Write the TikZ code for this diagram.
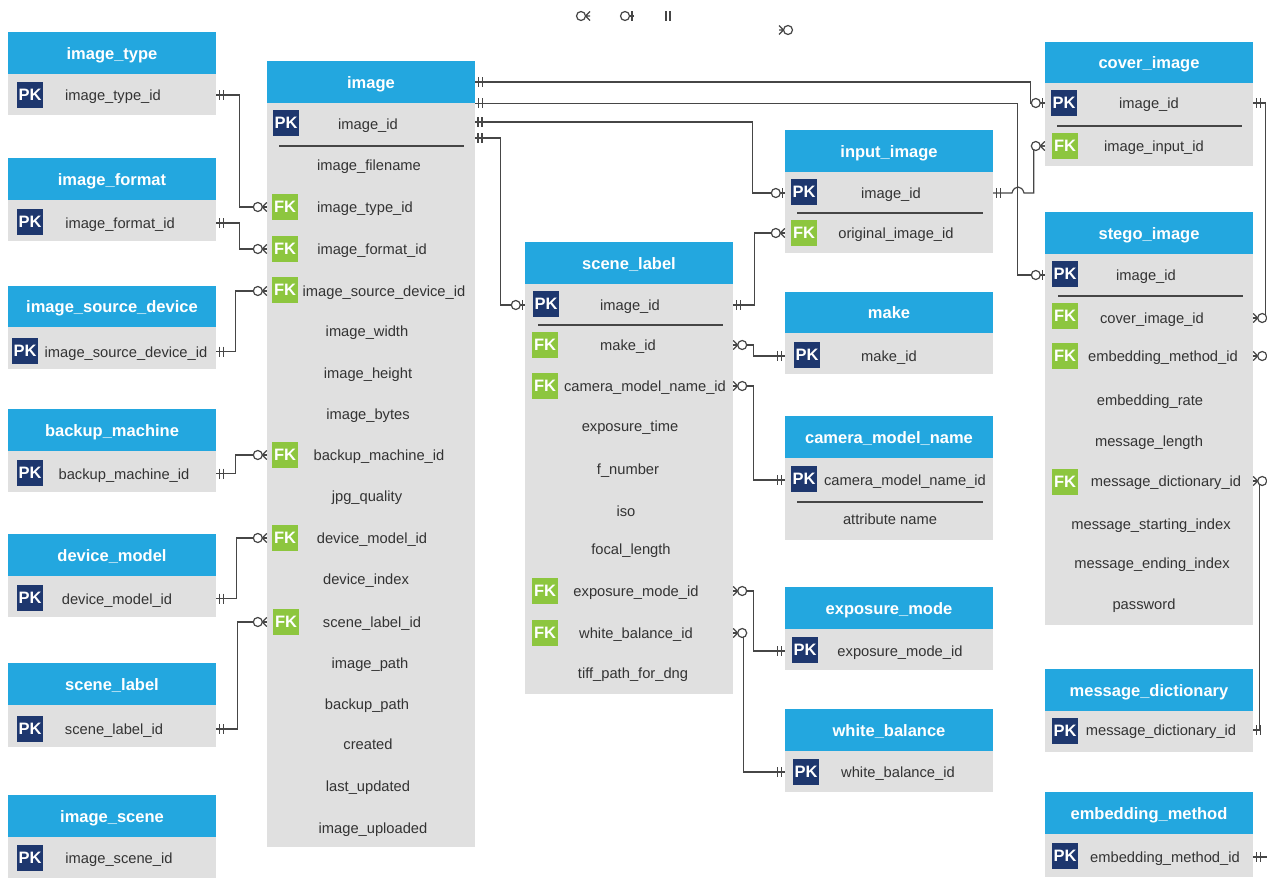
\documentclass[tikz,border=0pt]{standalone}
\usepackage{fontspec}
\setmainfont{Liberation Sans}
\definecolor{hdrblue}{RGB}{35,167,223}
\definecolor{bodygray}{RGB}{224,224,224}
\definecolor{pknavy}{RGB}{30,55,110}
\definecolor{fkgreen}{RGB}{141,198,63}
\definecolor{txtgray}{RGB}{51,51,51}
\definecolor{linegray}{RGB}{70,70,70}
\tikzset{
  hdr/.style={fill=hdrblue, minimum width=208pt, inner sep=0pt, text=white,
    font=\fontsize{16.5}{18}\selectfont\bfseries, text height=12.6pt, text depth=0pt},
  bodybox/.style={fill=bodygray, minimum width=208pt, inner sep=0pt, anchor=north},
  rowbox/.style={minimum width=208pt, minimum height=20pt, inner sep=0pt},
  fld/.style={inner sep=0pt, text=txtgray, font=\fontsize{14.7}{17}\selectfont,
    text height=11.6pt, text depth=0pt},
  badge/.style={minimum size=26pt, inner sep=0pt, text=white,
    font=\fontsize{16.5}{18}\selectfont\bfseries, text height=11.8pt, text depth=0pt},
  pkb/.style={badge, fill=pknavy},
  fkb/.style={badge, fill=fkgreen},
  sepline/.style={draw=linegray, line width=1.1pt},
  conn/.style={draw=linegray, line width=1.2pt},
  mone/.pic={\draw[conn] (3,-5) -- (3,5) (7,-5) -- (7,5);},
  zone/.pic={\draw[conn] (2,-5) -- (2,5); \draw[conn, fill=white] (9,0) circle (4.5);},
  zmany/.pic={\draw[conn] (4.5,0) -- (0,-4.5) (4.5,0) -- (0,0) (4.5,0) -- (0,4.5);
    \draw[conn, fill=white] (9,0) circle (4.5);},
}
\newcommand\mktable[6]{%
  \node[hdr, minimum height=#4] (#1) at ({#2+104},{#3+#4/2}) {#6};
  \node[bodybox, minimum height=#5] (#1-b) at ({#2+104},{#3+#4}) {};}
\newcommand\frow[4]{\node[rowbox] (#1) at (\tcx,#2) {}; \node[fld] (#1-t) at (#3,#2) {#4};}
\newcommand\pkat[3]{\node[pkb] (#1-k) at (#2,#3) {PK};}
\newcommand\fkat[3]{\node[fkb] (#1-k) at (#2,#3) {FK};}
\begin{document}
\begin{tikzpicture}[x=1pt, y=-1pt]
\useasboundingbox (0,0) rectangle (1267,878);
\fill[white] (0,0) rectangle (1267,878);
\clip (0,0) rectangle (1267,878);

% ---------- left tables ----------
\def\tcx{112}
\mktable{it}{8}{32}{42}{41}{image\_type}
\frow{it1}{95}{113}{image\_type\_id} \pkat{it1}{30}{95}
\mktable{if}{8}{158}{42}{41}{image\_format}
\frow{if1}{223}{120}{image\_format\_id} \pkat{if1}{30}{222}
\mktable{isd}{8}{286}{41}{42}{image\_source\_device}
\frow{isd1}{351.5}{126}{image\_source\_device\_id} \pkat{isd1}{25}{351}
\mktable{bm}{8}{409}{42}{41}{backup\_machine}
\frow{bm1}{473.5}{124}{backup\_machine\_id} \pkat{bm1}{30}{473}
\mktable{dm}{8}{534}{42}{41}{device\_model}
\frow{dm1}{598.5}{117}{device\_model\_id} \pkat{dm1}{30}{598}
\mktable{sl}{8}{663}{42}{42}{scene\_label}
\frow{sl1}{729}{114}{scene\_label\_id} \pkat{sl1}{30}{729}
\mktable{is}{8}{795}{42}{41}{image\_scene}
\frow{is1}{858}{119}{image\_scene\_id} \pkat{is1}{30}{858}

% ---------- image ----------
\def\tcx{371}
\mktable{img}{267}{61}{42}{744}{image}
\frow{im1}{124}{368}{image\_id} \pkat{im1}{286}{123}
\draw[sepline] (279,146) -- (464,146);
\frow{im2}{165}{369}{image\_filename}
\frow{im3}{207}{365}{image\_type\_id} \fkat{im3}{285}{207}
\frow{im4}{249}{372}{image\_format\_id} \fkat{im4}{285}{249}
\frow{im5}{291}{384}{image\_source\_device\_id} \fkat{im5}{285}{290}
\frow{im6}{331}{367}{image\_width}
\frow{im7}{373}{368}{image\_height}
\frow{im8}{414}{368}{image\_bytes}
\frow{im9}{455}{379}{backup\_machine\_id} \fkat{im9}{285}{455}
\frow{im10}{496}{367}{jpg\_quality}
\frow{im11}{538}{372}{device\_model\_id} \fkat{im11}{285}{538}
\frow{im12}{579}{366}{device\_index}
\frow{im13}{622}{372}{scene\_label\_id} \fkat{im13}{286}{622}
\frow{im14}{663}{370}{image\_path}
\frow{im15}{704}{367}{backup\_path}
\frow{im16}{744}{368}{created}
\frow{im17}{786}{368}{last\_updated}
\frow{im18}{828}{373}{image\_uploaded}
\coordinate (im1a) at (475,122);
\coordinate (im1b) at (475,138);

% ---------- scene_label (middle) ----------
\def\tcx{629}
\mktable{sm}{525}{242}{42}{410}{scene\_label}
\frow{sm1}{305}{630}{image\_id} \pkat{sm1}{546}{304}
\draw[sepline] (538,325) -- (723,325);
\frow{sm2}{345}{628}{make\_id} \fkat{sm2}{545}{345}
\frow{sm3}{386}{645}{camera\_model\_name\_id} \fkat{sm3}{545}{386}
\frow{sm4}{426}{630}{exposure\_time}
\frow{sm5}{469}{628}{f\_number}
\frow{sm6}{511}{626}{iso}
\frow{sm7}{549}{631}{focal\_length}
\frow{sm8}{591}{636}{exposure\_mode\_id} \fkat{sm8}{545}{591}
\frow{sm9}{633}{636}{white\_balance\_id} \fkat{sm9}{545}{633}
\frow{sm10}{673}{633}{tiff\_path\_for\_dng}

% ---------- middle-right tables ----------
\def\tcx{889}
\mktable{ii}{785}{130}{42}{81}{input\_image}
\frow{ii1}{193}{891}{image\_id} \pkat{ii1}{804}{192}
\draw[sepline] (797,213) -- (983,213);
\frow{ii2}{233}{896}{original\_image\_id} \fkat{ii2}{804}{233}
\mktable{mk}{785}{292}{41}{41}{make}
\frow{mk1}{356}{889}{make\_id} \pkat{mk1}{807}{355}
\mktable{cm}{785}{416}{42}{82}{camera\_model\_name}
\frow{cm1}{480}{905}{camera\_model\_name\_id} \pkat{cm1}{804}{479}
\draw[sepline] (797,502) -- (983,502);
\frow{cm2}{519}{890}{attribute name}
\mktable{ex}{785}{587}{42}{41}{exposure\_mode}
\frow{ex1}{651}{900}{exposure\_mode\_id} \pkat{ex1}{805}{650}
\mktable{wb}{785}{709}{42}{41}{white\_balance}
\frow{wb1}{772}{898}{white\_balance\_id} \pkat{wb1}{806}{772}

% ---------- right tables ----------
\def\tcx{1149}
\mktable{cv}{1045}{42}{41}{83}{cover\_image}
\frow{cv1}{103}{1149}{image\_id} \pkat{cv1}{1064}{103}
\draw[sepline] (1057,126) -- (1242,126);
\frow{cv2}{146}{1154}{image\_input\_id} \fkat{cv2}{1065}{146}
\mktable{st}{1045}{212}{42}{371}{stego\_image}
\frow{st1}{275}{1146}{image\_id} \pkat{st1}{1065}{274}
\draw[sepline] (1058,296) -- (1243,296);
\frow{st2}{318}{1152}{cover\_image\_id} \fkat{st2}{1065}{316}
\frow{st3}{356}{1163}{embedding\_method\_id} \fkat{st3}{1065}{356}
\frow{st4}{400}{1150}{embedding\_rate}
\frow{st5}{441}{1149}{message\_length}
\frow{st6}{481}{1166}{message\_dictionary\_id} \fkat{st6}{1065}{482}
\frow{st7}{524}{1151}{message\_starting\_index}
\frow{st8}{563}{1152}{message\_ending\_index}
\frow{st9}{604}{1144}{password}
\mktable{md}{1045}{669}{42}{41}{message\_dictionary}
\frow{md1}{730}{1161}{message\_dictionary\_id} \pkat{md1}{1065}{731}
\mktable{em}{1045}{792}{42}{43}{embedding\_method}
\frow{em1}{857}{1165}{embedding\_method\_id} \pkat{em1}{1065}{856}

% ---------- connectors ----------
\draw[conn] (it1.east) -| ([xshift=-27pt]im3.west) -- (im3.west);
\draw[conn] (if1.east) -| ([xshift=-27pt]im4.west) -- (im4.west);
\draw[conn] (isd1.east) -| ([xshift=-31pt]im5.west) -- (im5.west);
\draw[conn] (bm1.east) -| ([xshift=-31pt]im9.west) -- (im9.west);
\draw[conn] (dm1.east) -| ([xshift=-30pt]im11.west) -- (im11.west);
\draw[conn] (sl1.east) -| ([xshift=-29pt]im13.west) -- (im13.west);

\draw[conn] (img.east) -| ([xshift=-14pt]cv1.west) -- (cv1.west);
\draw[conn] (img.south east) -| ([xshift=-27pt]st1.west) -- (st1.west);
\draw[conn] (im1a) -| ([xshift=-32pt]ii1.west) -- (ii1.west);
\draw[conn] (im1b) -| ([xshift=-24pt]sm1.west) -- (sm1.west);

\draw[conn] (ii1.east) -- (1012,193) .. controls (1014,185) and (1022,185) .. (1024,193)
  -| ([xshift=-11pt]cv2.west) -- (cv2.west);
\draw[conn] (sm1.east) -| ([xshift=-30pt]ii2.west) -- (ii2.west);
\draw[conn] (sm2.east) -| ([xshift=-31pt]mk1.west) -- (mk1.west);
\draw[conn] (sm3.east) -| ([xshift=-31pt]cm1.west) -- (cm1.west);
\draw[conn] (sm8.east) -| ([xshift=-31pt]ex1.west) -- (ex1.west);
\draw[conn] (sm9.east) -| ([xshift=-41pt]wb1.west) -- (wb1.west);

\draw[conn] (cv1.east) -| ([xshift=12pt]st2.east) -- (st2.east);
\draw[conn] (st3.east) -| ([xshift=30pt]em1.east) -- (em1.east);
\draw[conn] (st6.east) -| ([xshift=6pt]md1.east) -- (md1.east);

% ---------- end marks ----------
\foreach \n in {it1,if1,isd1,bm1,dm1,sl1,ii1,sm1,cv1,md1,em1}
  \pic at (\n.east) {mone};
\pic at (img.east) {mone};
\pic at (img.south east) {mone};
\pic at (im1a) {mone};
\pic at (im1b) {mone};
\foreach \n in {mk1,cm1,ex1,wb1}
  \pic[xscale=-1] at (\n.west) {mone};
\foreach \n in {im3,im4,im5,im9,im11,im13,cv2,ii2}
  \pic[xscale=-1] at (\n.west) {zmany};
\foreach \n in {sm2,sm3,sm8,sm9,st2,st3,st6}
  \pic at (\n.east) {zmany};
\foreach \n in {cv1,st1,ii1,sm1}
  \pic[xscale=-1] at (\n.west) {zone};

% ---------- loose markers at the top ----------
\coordinate (lg1) at (590,16);
\coordinate (lg2) at (634,16);
\coordinate (lg3) at (673,16);
\coordinate (lg4) at (779,30);
\pic[xscale=-1] at (lg1) {zmany};
\draw[conn] (lg2) -- ++(-4.5,0);
\pic[xscale=-1] at (lg2) {zone};
\pic[xscale=-1] at (lg3) {mone};
\pic at (lg4) {zmany};
\end{tikzpicture}
\end{document}
